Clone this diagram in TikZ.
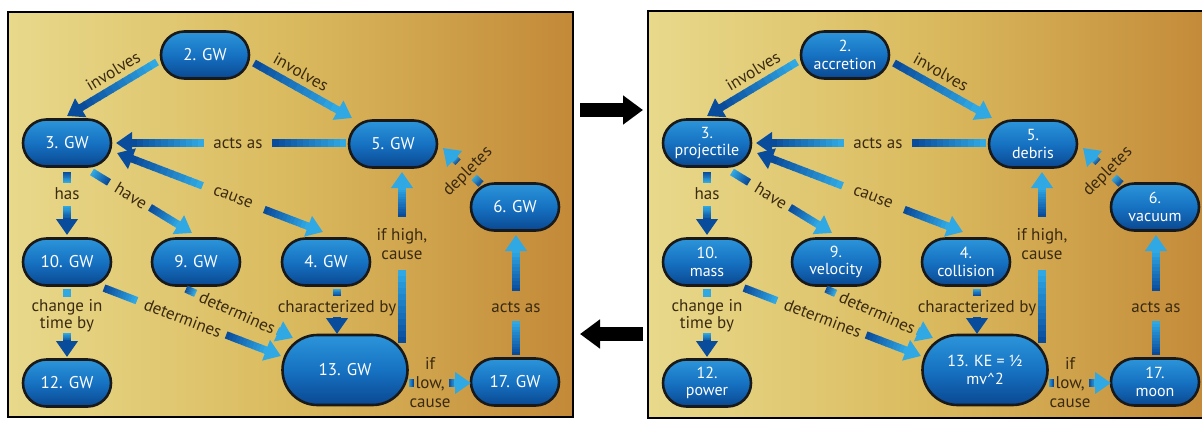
\documentclass[tikz,border=0pt]{standalone}
\usepackage{fontspec}
\setmainfont{PT Sans}
\usetikzlibrary{calc,arrows.meta,shapes.misc}
\definecolor{cL}{HTML}{30A8E4}
\definecolor{cD}{HTML}{0A4C9C}
\definecolor{nTop}{HTML}{2C95DA}
\definecolor{nMid}{HTML}{1672C2}
\definecolor{nBot}{HTML}{0A4892}
\definecolor{bgL}{HTML}{E8D98B}
\definecolor{bgM}{HTML}{DABA5E}
\definecolor{bgR}{HTML}{C38938}
\definecolor{lab}{HTML}{3A2A10}
\tikzset{
  cnode/.style={rounded rectangle, minimum width=88pt, minimum height=47pt, inner sep=0pt,
    top color=nTop, bottom color=nBot, middle color=nMid, draw=black!90, line width=2.6pt,
    text=white, font=\nfont, align=center},
  bignode/.style={cnode, minimum width=125pt, minimum height=70pt},
  elabel/.style={text=lab, font=\fontsize{17}{19}\selectfont, align=center, inner sep=0pt},
  shaft/.style={line width=7.5pt},
  bigarrow/.style={line width=14pt, black, -{Triangle[width=28pt,length=20pt]}},
  frame/.style={draw=black, line width=2.5pt},
}
\newcommand\nfont{\fontsize{17}{18}\selectfont}
% gradient shaft from #1 to #2, colour #3 -> #4
\newcommand\gline[4]{%
  \foreach \k in {0,...,11}{%
    \pgfmathsetmacro\ta{\k/12}%
    \pgfmathsetmacro\tb{min(1,(\k+1.2)/12)}%
    \pgfmathtruncatemacro\pc{100-100*\k/11}%
    \draw[shaft, color=#3!\pc!#4] ($(#1)!\ta!(#2)$) -- ($(#1)!\tb!(#2)$);
  }}
% gradient shaft with arrow head at #2
\newcommand\ghead[4]{%
  \coordinate (hb) at ($(#2)!15pt!(#1)$);
  \gline{#1}{hb}{#3}{#4}%
  \draw[shaft, color=#4, -{Triangle[width=21pt,length=16pt]}] ($(#2)!17pt!(#1)$) -- (#2);
}
% two-part connector: s -> (gap) -> e
\newcommand\twopart[9]{% #1 prefix, #2 s, #3 e, #4 f1, #5 f2, #6 c1, #7 c2, #8 c3, #9 c4
  \coordinate (#1m) at ($(#2)!#4!(#3)$);
  \coordinate (#1n) at ($(#2)!#5!(#3)$);
  \gline{#2}{#1m}{#6}{#7}%
  \ghead{#1n}{#3}{#8}{#9}%
}
\newcommand\panel[2]{%
\begin{scope}[shift={(#2,0)}]
\node[cnode] (#1n2) at (205,55) {\Tb};
\node[cnode] (#1n3) at (67,143) {\Tc};
\node[cnode] (#1n5) at (393,144) {\Te};
\node[cnode] (#1n6) at (515,207) {\Tf};
\node[cnode] (#1n10) at (67,262) {\Tj};
\node[cnode] (#1n9) at (196,262) {\Ti};
\node[cnode] (#1n4) at (326,262) {\Td};
\node[cnode] (#1n12) at (67,383) {\Tl};
\node[bignode] (#1n13) at (345,370) {\Tm};
\node[cnode] (#1n17) at (515,382) {\Tq};
% 2 -> 3 involves
\coordinate (#1a1s) at ($(#1n2)+(-48,7)$);
\coordinate (#1a1e) at ($(#1n3)+(0,-27)$);
\ghead{#1a1s}{#1a1e}{cL}{cD}
\node[elabel, rotate=31] at (113,71) {involves};
% 2 -> 5 involves
\coordinate (#1a2s) at ($(#1n2)+(49,8)$);
\coordinate (#1a2e) at ($(#1n5)+(-41,-26)$);
\ghead{#1a2s}{#1a2e}{cD}{cL}
\node[elabel, rotate=-29] at (301,72) {involves};
% 5 -> 3 acts as
\coordinate (#1a3s) at ($(#1n5)+(-47,-1)$);
\coordinate (#1a3e) at ($(#1n3)+(49,0)$);
\twopart{#1a3}{#1a3s}{#1a3e}{0.32}{0.617}{cL}{cD}{cL}{cD}
\node[elabel] at ($(#1a3s)!0.47!(#1a3e)$) {acts as};
% 3 <-> 4 cause
\coordinate (#1a4s) at ($(#1n3)+(50,10)$);
\coordinate (#1a4e) at ($(#1n4)+(-3,-30)$);
\coordinate (#1a4m) at ($(#1a4s)!0.415!(#1a4e)$);
\coordinate (#1a4n) at ($(#1a4s)!0.715!(#1a4e)$);
\ghead{#1a4m}{#1a4s}{cL}{cD}
\ghead{#1a4n}{#1a4e}{cD}{cL}
\node[elabel, rotate=-21] at ($(#1a4s)!0.563!(#1a4e)$) {cause};
% 3 -> 10 has
\coordinate (#1a5s) at ($(#1n3)+(0,29)$);
\coordinate (#1a5e) at ($(#1n10)+(0,-27)$);
\twopart{#1a5}{#1a5s}{#1a5e}{0.175}{0.54}{cD}{cL}{cL}{cD}
\node[elabel] at ($(#1a5s)!0.35!(#1a5e)$) {has};
% 3 -> 9 have
\coordinate (#1a6s) at ($(#1n3)+(25,29)$);
\coordinate (#1a6e) at ($(#1n9)+(-4,-29)$);
\twopart{#1a6}{#1a6s}{#1a6e}{0.17}{0.58}{cL}{cD}{cD}{cL}
\node[elabel, rotate=-31] at ($(#1a6s)!0.39!(#1a6e)$) {have};
% 10 -> 12 change in time by
\coordinate (#1a7s) at ($(#1n10)+(0,27)$);
\coordinate (#1a7e) at ($(#1n12)+(0,-26)$);
\twopart{#1a7}{#1a7s}{#1a7e}{0.118}{0.65}{cL}{cL}{cL}{cD}
\node[elabel, font=\fontsize{17}{17}\selectfont] at ($(#1a7s)!0.39!(#1a7e)$) {change in\\time by};
% 10 -> 13 determines
\coordinate (#1a8s) at ($(#1n10)+(37,26)$);
\coordinate (#1a8e) at ($(#1n13)+(-64,-14)$);
\twopart{#1a8}{#1a8s}{#1a8e}{0.186}{0.69}{cD}{cL}{cD}{cL}
\node[elabel, rotate=-21] at ($(#1a8s)!0.446!(#1a8e)$) {determines};
% 9 -> 13 determines
\coordinate (#1a9s) at ($(#1n9)+(-10,27)$);
\coordinate (#1a9e) at ($(#1n13)+(-52,-32)$);
\twopart{#1a9}{#1a9s}{#1a9e}{0.09}{0.86}{cD}{cL}{cD}{cL}
\node[elabel, rotate=-24] at ($(#1a9s)!0.48!(#1a9e)$) {determines};
% 4 -> 13 characterized by
\coordinate (#1a10s) at ($(#1n4)+(11,27)$);
\coordinate (#1a10e) at ($(#1n13)+(-8,-36)$);
\twopart{#1a10}{#1a10s}{#1a10e}{0.155}{0.66}{cL}{cD}{cL}{cD}
\node[elabel] at ($(#1a10s)!0.42!(#1a10e)$) {characterized by};
% 13 -> 5 if high, cause
\coordinate (#1a11s) at ($(#1n13)+(57,-27)$);
\coordinate (#1a11e) at ($(#1n5)+(9,28)$);
\twopart{#1a11}{#1a11s}{#1a11e}{0.427}{0.737}{cD}{cL}{cD}{cL}
\node[elabel] at ($(#1a11s)!0.579!(#1a11e)$) {if high,\\cause};
% 13 -> 17 if low, cause
\coordinate (#1a12s) at ($(#1n13)+(64,13)$);
\coordinate (#1a12e) at ($(#1n17)+(-44,1)$);
\twopart{#1a12}{#1a12s}{#1a12e}{0.07}{0.64}{cL}{cD}{cD}{cL}
\node[elabel] at ($(#1a12s)!0.34!(#1a12e)$) {if\\low,\\cause};
% 17 -> 6 acts as
\coordinate (#1a13s) at ($(#1n17)+(1,-27)$);
\coordinate (#1a13e) at ($(#1n6)+(1,28)$);
\twopart{#1a13}{#1a13s}{#1a13e}{0.283}{0.53}{cD}{cL}{cD}{cL}
\node[elabel] at ($(#1a13s)!0.40!(#1a13e)$) {acts as};
% 6 -> 5 depletes
\coordinate (#1a14s) at ($(#1n6)+(-34,-23)$);
\coordinate (#1a14e) at ($(#1n5)+(50,4)$);
\twopart{#1a14}{#1a14s}{#1a14e}{0.184}{0.605}{cD}{cL}{cD}{cL}
\node[elabel, rotate=45] at ($(#1a14s)!0.34!(#1a14e)$) {depletes};
\end{scope}}

\begin{document}
\begin{tikzpicture}[x=1pt,y=-1pt]
\useasboundingbox (0,0) rectangle (1202,424);
\fill[white] (0,0) rectangle (1202,424);
% panel backgrounds
\shade[left color=bgL, right color=bgR, middle color=bgM] (8,12) rectangle (573,417);
\draw[frame] (8,12) rectangle (573,417);
\shade[left color=bgL, right color=bgR, middle color=bgM] (648,11) rectangle (1214,418);
\draw[frame] (648,11) rectangle (1214,418);
% arrows between panels
\coordinate (ra1) at (580,110);
\coordinate (ra2) at (643,110);
\draw[bigarrow] (ra1) -- (ra2);
\coordinate (la1) at (643,334);
\coordinate (la2) at (580,334);
\draw[bigarrow] (la1) -- (la2);
% left panel
\def\Tb{2. GW}\def\Tc{3. GW}\def\Te{5. GW}\def\Tf{6. GW}\def\Tj{10. GW}
\def\Ti{9. GW}\def\Td{4. GW}\def\Tl{12. GW}\def\Tm{13. GW}\def\Tq{17. GW}
\panel{L}{0}
% right panel
\renewcommand\nfont{\fontsize{16}{17.5}\selectfont}
\def\Tb{2.\\accretion}\def\Tc{3.\\projectile}\def\Te{5.\\debris}\def\Tf{6.\\vacuum}
\def\Tj{10.\\mass}\def\Ti{9.\\velocity}\def\Td{4.\\collision}\def\Tl{12.\\power}
\def\Tm{13. KE = ½\\mv\textasciicircum 2}\def\Tq{17.\\moon}
\panel{R}{640}
\end{tikzpicture}
\end{document}
